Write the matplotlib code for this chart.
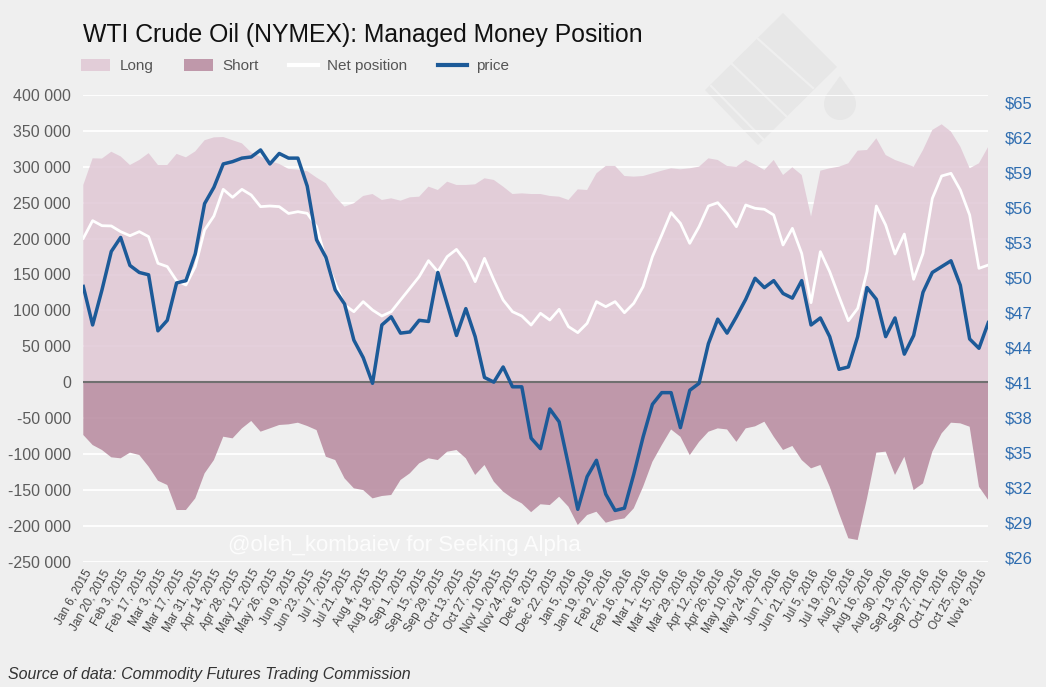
"""
WTI Crude Oil (NYMEX): Managed Money Position
Weekly long / short / net positions against the oil price, Jan 2015 - Nov 2016.
"""

import matplotlib
matplotlib.use('Agg')
import matplotlib.pyplot as plt
import matplotlib.transforms as mtransforms
from matplotlib.patches import Patch, Polygon, Circle
from matplotlib.lines import Line2D
from matplotlib.ticker import FuncFormatter
import pandas as pd

plt.rcParams['font.family'] = ['Liberation Sans', 'DejaVu Sans']

# weekly report dates (Tuesdays)
weeks = pd.date_range('2015-01-06', periods=98, freq='7D')

# managed money long positions, contracts
long_pos = [
    274700, 311800, 311500, 321000, 314500, 302500, 309500, 319000, 302500, 302500,
    318000, 313200, 321500, 337000, 341000, 341500, 337000, 332700, 320000, 314000,
    308000, 304000, 297000, 296000, 294000, 285000, 277000, 258400, 244500, 249200,
    259400, 262100, 253800, 256100, 252800, 257500, 258400, 272400, 267700, 279300,
    274700, 274700, 275600, 284000, 281700, 272400, 262100, 263000, 262100, 262100,
    259400, 258400, 253800, 268600, 267700, 290900, 301200, 301200, 287200, 286300,
    287200, 290900, 294600, 297900, 296500, 297900, 300200, 311800, 309500, 301200,
    300200, 309500, 303000, 295600, 309500, 288600, 299300, 288600, 230600, 294600,
    297900, 300200, 304900, 322500, 323400, 339700, 316400, 309500, 304900, 300200,
    323400, 351300, 359200, 349000, 328100, 297900, 304900, 328100,
]

# managed money short positions, contracts (shown below zero)
short_pos = [
    -73500, -87500, -94400, -104600, -106000, -98100, -101400, -117600, -137200, -143200,
    -178000, -178000, -161800, -127000, -108400, -75900, -78200, -64300, -54000, -68900,
    -64300, -59600, -58700, -56400, -61000, -66700, -103800, -108400, -133900, -147800,
    -150200, -161800, -158500, -157100, -136200, -126900, -113000, -106000, -108400, -96800,
    -94400, -106000, -129200, -115300, -138500, -152400, -161800, -168800, -181000, -170000,
    -171100, -159500, -173400, -198900, -185000, -180400, -195700, -192000, -189700, -175700,
    -145600, -110800, -87600, -65800, -76000, -101600, -83100, -69000, -64300, -65800,
    -83100, -64300, -61500, -55000, -75900, -94400, -88800, -108400, -120000, -115300,
    -145500, -182700, -217400, -219800, -161800, -98100, -96700, -129200, -103800, -150200,
    -140900, -96700, -71200, -56400, -57300, -62000, -145600, -164200,
]

# net position, contracts
net_pos = [
    200400, 225000, 218000, 217600, 209700, 204000, 209700, 202700, 165600, 161000,
    141400, 135400, 161000, 212000, 231500, 268600, 257500, 268600, 260700, 244500,
    245400, 244500, 235000, 237500, 235200, 216700, 170200, 137700, 107500, 98200,
    112200, 100500, 92200, 98200, 114500, 130700, 147000, 169300, 154000, 174900,
    185000, 167900, 140000, 172500, 142300, 114500, 98200, 92200, 79600, 96000,
    86600, 101500, 77400, 69000, 82000, 112200, 105200, 112200, 96800, 109900,
    133100, 174900, 205000, 236100, 221300, 193400, 216600, 245400, 250000, 235200,
    216600, 246800, 242200, 240800, 232900, 191100, 214300, 179300, 110800, 181800,
    153900, 119100, 85600, 102800, 153900, 245400, 218900, 178500, 206300, 143300,
    179300, 256000, 287200, 290900, 267700, 232900, 158600, 163200,
]

# WTI price, $ per barrel
price = [
    49.2, 45.9, 48.9, 52.2, 53.4, 51.0, 50.4, 50.2, 45.4, 46.3,
    49.5, 49.7, 52.0, 56.3, 57.7, 59.7, 59.9, 60.2, 60.3, 60.9,
    59.7, 60.6, 60.2, 60.2, 57.8, 53.2, 51.7, 48.9, 47.7, 44.6,
    43.1, 40.9, 45.9, 46.6, 45.2, 45.3, 46.3, 46.2, 50.4, 47.7,
    45.0, 47.3, 44.9, 41.4, 41.0, 42.3, 40.6, 40.6, 36.2, 35.3,
    38.7, 37.6, 33.9, 30.1, 32.9, 34.3, 31.4, 30.0, 30.2, 33.1,
    36.3, 39.1, 40.1, 40.1, 37.1, 40.3, 40.9, 44.3, 46.4, 45.2,
    46.6, 48.1, 49.9, 49.1, 49.7, 48.6, 48.2, 49.7, 45.9, 46.5,
    44.9, 42.1, 42.3, 44.9, 49.1, 48.1, 44.9, 46.5, 43.4, 45.0,
    48.7, 50.4, 50.9, 51.4, 49.3, 44.7, 43.9, 46.1,
]

position_ticks = list(range(-250000, 400001, 50000))
price_ticks = list(range(26, 66, 3))

BG = '#efefef'
LONG_COLOR = '#e0c7d5'
SHORT_COLOR = '#b7899e'
PRICE_COLOR = '#1c5a98'
TEXT_COLOR = '#555555'
W, H = 1046, 687


def draw_watermark(fig):
    """Faint oil barrel logo behind the plot (reference pixel coords)."""
    px = mtransforms.Affine2D().scale(1, -1).translate(0, H).scale(1 / W, 1 / H) + fig.transFigure
    wm = '#e7e7e7'
    fig.add_artist(Polygon([(783, 13), (837, 67), (758, 145), (705, 90)], closed=True,
                           facecolor=wm, edgecolor='none', transform=px, zorder=-2))
    for a, b in [((757, 38), (813, 88)), ((731, 63), (787, 117)), ((711, 86), (764, 140))]:
        fig.add_artist(Line2D([a[0], b[0]], [a[1], b[1]], color=BG, lw=1.6,
                              transform=px, zorder=-1))
    fig.add_artist(Circle((840, 104), 16, facecolor=wm, edgecolor='none',
                          transform=px, zorder=-2))
    fig.add_artist(Polygon([(840, 76), (825, 97), (855, 97)], closed=True,
                           facecolor=wm, edgecolor='none', transform=px, zorder=-2))


def main():
    fig = plt.figure(figsize=(W / 100, H / 100), dpi=100, facecolor=BG)
    draw_watermark(fig)

    left, right, top, bottom = 83.3, 988.3, 95.0, 561.7
    ax = fig.add_axes([left / W, 1 - bottom / H, (right - left) / W, (bottom - top) / H])
    ax.set_facecolor('none')

    x = list(range(len(weeks)))

    # stacked areas
    ax.fill_between(x, 0, long_pos, facecolor=LONG_COLOR, alpha=0.85, lw=0, zorder=1)
    ax.fill_between(x, 0, short_pos, facecolor=SHORT_COLOR, alpha=0.85, lw=0, zorder=1)
    ax.axhline(0, color='#707070', lw=1.5, zorder=3)
    ax.plot(x, net_pos, color='white', lw=2.0, zorder=4)

    ax.set_xlim(0, len(weeks) - 1)
    ax.set_ylim(-250000, 400000)
    ax.set_yticks(position_ticks)
    ax.yaxis.set_major_formatter(FuncFormatter(lambda v, _: f"{v:,.0f}".replace(',', ' ')))
    ax.yaxis.grid(True, color='white', lw=1.3)
    ax.set_axisbelow(True)
    ax.tick_params(axis='y', length=0, pad=9, labelsize=11.5, labelcolor='#5c5c5c')

    tick_idx = x[::2]
    ax.set_xticks(tick_idx)
    ax.set_xticklabels([f"{weeks[i]:%b} {weeks[i].day}, {weeks[i].year}" for i in tick_idx],
                       rotation=60, ha='right', rotation_mode='anchor')
    ax.tick_params(axis='x', length=0, pad=4, labelsize=8.5, labelcolor='#444444')

    # price on the right axis
    ax2 = ax.twinx()
    ax2.plot(x, price, color=PRICE_COLOR, lw=2.5, zorder=5)
    ax2.set_ylim(25.61, 65.61)
    ax2.set_yticks(price_ticks)
    ax2.yaxis.set_major_formatter(FuncFormatter(lambda v, _: f"${v:.0f}"))
    ax2.tick_params(axis='y', length=0, pad=12, labelsize=12, labelcolor='#2f6db0')

    for a in (ax, ax2):
        for s in a.spines.values():
            s.set_visible(False)

    # title, legend and notes
    fig.text(left / W, 1 - 35 / H, 'WTI Crude Oil (NYMEX): Managed Money Position',
             fontsize=17.8, color='#111111', va='center', ha='left')

    handles = [
        Patch(facecolor=LONG_COLOR, alpha=0.85, label='Long'),
        Patch(facecolor=SHORT_COLOR, alpha=0.85, label='Short'),
        Line2D([0], [0], color='white', lw=3, label='Net position'),
        Line2D([0], [0], color=PRICE_COLOR, lw=3, label='price'),
    ]
    fig.legend(handles=handles, loc='center left', bbox_to_anchor=(left / W - 0.002, 1 - 66 / H),
               ncol=4, frameon=False, fontsize=11, labelcolor=TEXT_COLOR,
               handlelength=1.9, handleheight=0.8, handletextpad=0.6, columnspacing=2.0,
               borderpad=0, borderaxespad=0)

    fig.text(228 / W, 1 - 545 / H, '@oleh_kombaiev for Seeking Alpha',
             fontsize=16, color='white', alpha=0.85, va='center', ha='left')
    fig.text(8 / W, 1 - 675 / H, 'Source of data: Commodity Futures Trading Commission',
             fontsize=11.5, style='italic', color='#333333', va='center', ha='left')

    fig.savefig('out.png', dpi=100, facecolor=BG)
    plt.close(fig)


if __name__ == '__main__':
    main()
